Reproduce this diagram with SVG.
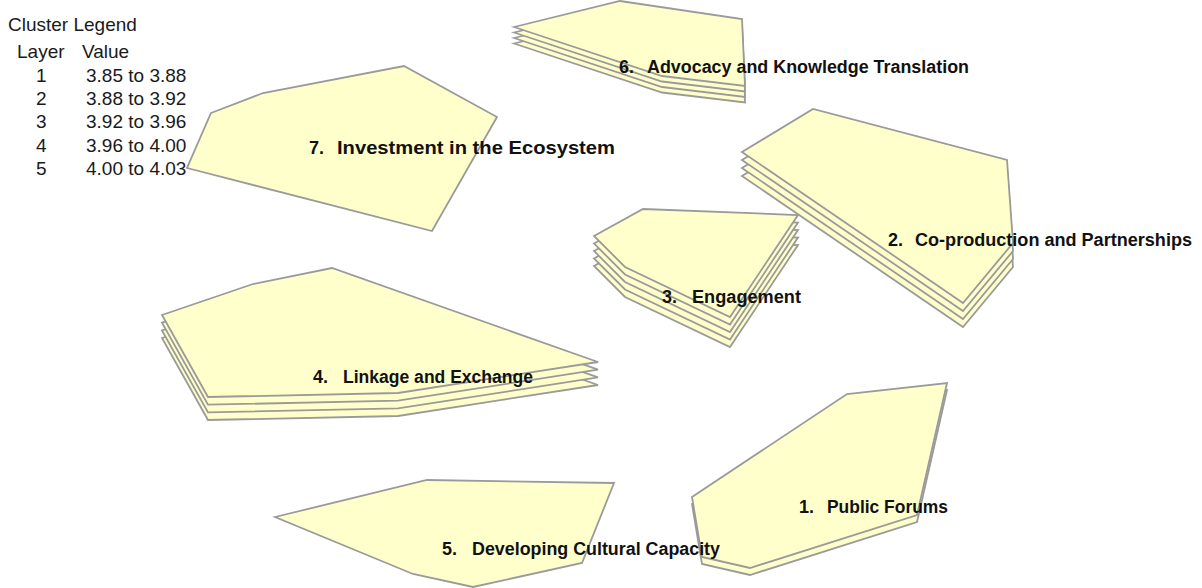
<svg xmlns="http://www.w3.org/2000/svg" xmlns:xlink="http://www.w3.org/1999/xlink" width="1202" height="588" viewBox="0 0 1202 588">
  <style>
    .layer { fill: #FFFFCC; stroke: #9A9A9A; stroke-width: 1.8; stroke-linejoin: miter; }
    .legend { font-family: "Liberation Sans", Arial, sans-serif; font-size: 19px; fill: #1a1a1a; }
    .label { font-family: "Liberation Sans", Arial, sans-serif; font-size: 18px; font-weight: bold; fill: #111111; }
  </style>
  <defs>
    <!-- outline of each cluster; stacked copies show the layer count -->
    <polygon id="shape1" class="layer" points="692,497 847,394 947,383 917,515 750,568 702,557"/>
    <polygon id="shape2" class="layer" points="742,152 813,109 1007,160 1013,243 963,303"/>
    <polygon id="shape3" class="layer" points="594,236 643,209 798,215 730,317 625,267"/>
    <polygon id="shape4" class="layer" points="162,315 253,284 332,268 598,362 398,393 208,397"/>
    <polygon id="shape5" class="layer" points="275,517 427,480 614,483 582,563 473,587 413,574"/>
    <polygon id="shape6" class="layer" points="514,27 620,1 742,19 745,86 662,76"/>
    <polygon id="shape7" class="layer" points="211,113 263,93 404,66 497,117 432,231 187,168"/>
  </defs>

  <!-- legend -->
  <g id="legend" class="legend">
    <text x="8" y="31">Cluster Legend</text>
    <text x="17" y="58">Layer</text>
    <text x="82" y="58">Value</text>
    <text x="36" y="82">1</text><text x="86" y="82">3.85 to 3.88</text>
    <text x="36" y="105">2</text><text x="86" y="105">3.88 to 3.92</text>
    <text x="36" y="128">3</text><text x="86" y="128">3.92 to 3.96</text>
    <text x="36" y="152">4</text><text x="86" y="152">3.96 to 4.00</text>
    <text x="36" y="175">5</text><text x="86" y="175">4.00 to 4.03</text>
  </g>

  <g id="cluster6">
    <use xlink:href="#shape6" transform="translate(0,16.5)"/>
    <use xlink:href="#shape6" transform="translate(0,11)"/>
    <use xlink:href="#shape6" transform="translate(0,5.5)"/>
    <use xlink:href="#shape6"/>
    <text class="label" x="619" y="73">6.<tspan x="647" textLength="322" lengthAdjust="spacingAndGlyphs">Advocacy and Knowledge Translation</tspan></text>
  </g>

  <g id="cluster7">
    <use xlink:href="#shape7"/>
    <text class="label" x="309" y="154">7.<tspan x="337" textLength="278" lengthAdjust="spacingAndGlyphs">Investment in the Ecosystem</tspan></text>
  </g>

  <g id="cluster2">
    <use xlink:href="#shape2" transform="translate(0,24)"/>
    <use xlink:href="#shape2" transform="translate(0,16)"/>
    <use xlink:href="#shape2" transform="translate(0,8)"/>
    <use xlink:href="#shape2"/>
    <text class="label" x="888" y="246">2.<tspan x="915" textLength="277" lengthAdjust="spacingAndGlyphs">Co-production and Partnerships</tspan></text>
  </g>

  <g id="cluster3">
    <use xlink:href="#shape3" transform="translate(0,30)"/>
    <use xlink:href="#shape3" transform="translate(0,22.5)"/>
    <use xlink:href="#shape3" transform="translate(0,15)"/>
    <use xlink:href="#shape3" transform="translate(0,7.5)"/>
    <use xlink:href="#shape3"/>
    <text class="label" x="662" y="303">3.<tspan x="692" textLength="109" lengthAdjust="spacingAndGlyphs">Engagement</tspan></text>
  </g>

  <g id="cluster4">
    <use xlink:href="#shape4" transform="translate(0,23)"/>
    <use xlink:href="#shape4" transform="translate(0,15.4)"/>
    <use xlink:href="#shape4" transform="translate(0,7.7)"/>
    <use xlink:href="#shape4"/>
    <text class="label" x="313" y="383">4.<tspan x="343" textLength="190" lengthAdjust="spacingAndGlyphs">Linkage and Exchange</tspan></text>
  </g>

  <g id="cluster1">
    <use xlink:href="#shape1" transform="translate(0,7)"/>
    <use xlink:href="#shape1"/>
    <text class="label" x="799" y="513">1.<tspan x="827" textLength="121" lengthAdjust="spacingAndGlyphs">Public Forums</tspan></text>
  </g>

  <g id="cluster5">
    <use xlink:href="#shape5"/>
    <text class="label" x="442" y="555">5.<tspan x="472" textLength="248" lengthAdjust="spacingAndGlyphs">Developing Cultural Capacity</tspan></text>
  </g>
</svg>
